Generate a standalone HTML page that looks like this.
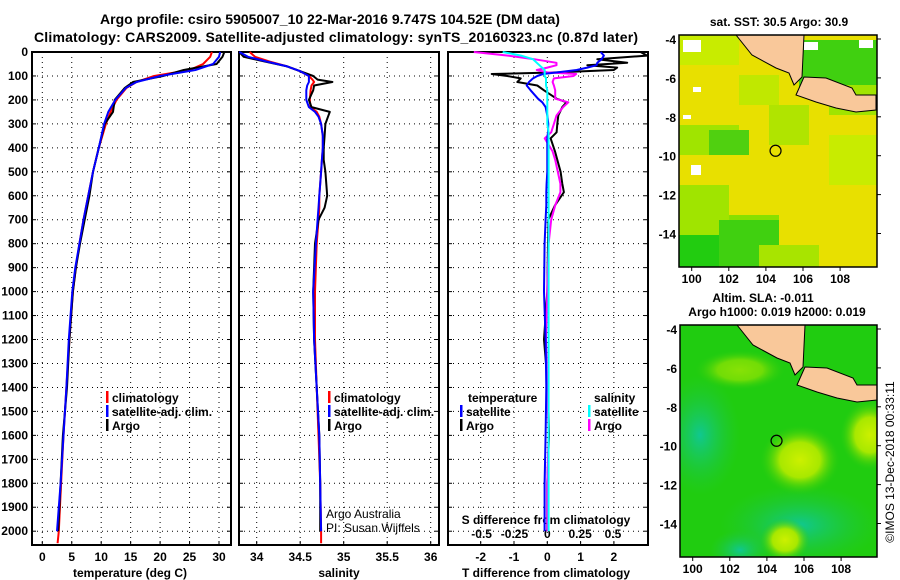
<!DOCTYPE html>
<html><head><meta charset="utf-8"><style>
body{margin:0;background:#fff}
svg{display:block;font-family:"Liberation Sans",sans-serif}
.b{font-weight:bold;font-size:12px}
.n{font-weight:normal;font-size:12px}
.t{font-weight:bold;font-size:14px}
</style></head><body>
<svg id="c" width="900" height="580" viewBox="0 0 900 580" xmlns="http://www.w3.org/2000/svg">
<defs>
<clipPath id="cp1"><rect x="32" y="37" width="199" height="508"/></clipPath>
<clipPath id="cp2"><rect x="239" y="37" width="200" height="508"/></clipPath>
<clipPath id="cp3"><rect x="448" y="37" width="200" height="508"/></clipPath>
<clipPath id="cm1"><rect x="679" y="35" width="198" height="232"/></clipPath>
<clipPath id="cm2"><rect x="680" y="325" width="197" height="232"/></clipPath>
<radialGradient id="gy"><stop offset="0" stop-color="#ccf000"/><stop offset="0.5" stop-color="#a8e800"/><stop offset="1" stop-color="#30cc10" stop-opacity="0"/></radialGradient>
<radialGradient id="gt"><stop offset="0" stop-color="#10c890"/><stop offset="1" stop-color="#20c840" stop-opacity="0"/></radialGradient>
<radialGradient id="gg"><stop offset="0" stop-color="#10c000"/><stop offset="1" stop-color="#10c000" stop-opacity="0"/></radialGradient>
</defs>
<text class="t" x="330" y="24" text-anchor="middle">Argo profile: csiro 5905007_10 22-Mar-2016 9.747S 104.52E (DM data)</text>
<text class="t" x="34" y="42" textLength="604">Climatology: CARS2009. Satellite-adjusted climatology: synTS_20160323.nc (0.87d later)</text>
<g id="g"></g>
</svg>
<script>
// ---- data ----
const depthTicks=[0,100,200,300,400,500,600,700,800,900,1000,1100,1200,1300,1400,1500,1600,1700,1800,1900,2000];
const tempTicks=[0,5,10,15,20,25,30];
const salTicks=[34,34.5,35,35.5,36];
const salTickLabels=["34","34.5","35","35.5","36"];
const tdTicks=[-2,-1,0,1,2];
const sdTicks=[-0.5,-0.25,0,0.25,0.5];
const sdTickLabels=["-0.5","-0.25","0","0.25","0.5"];

const tDepth=[0,20,50,75,100,125,150,200,250,300,400,500,600,700,800,900,1000,1200,1400,1600,1800,2000,2050];
const tClim=[28.8,28.5,27.3,25,19,16,14.3,12.6,11.6,10.8,9.6,8.6,7.8,7.0,6.3,5.7,5.2,4.6,4.1,3.6,3.2,2.8,2.6];
const tSat=[30.2,30,29,26,20,16,14.2,12.4,11.2,10.5,9.6,8.6,7.8,7.0,6.3,5.6,5.1,4.5,4.1,3.6,3.1,2.5];
const tArgo=[30.9,30.6,29.6,24,20.5,15.4,14,12.3,12,10.6,9.6,8.6,8,7.2,6.4,5.7,5.2,4.6,4.2,3.5,3.1,2.7];

const sDepth=[0,20,40,60,80,100,115,125,140,160,200,230,250,270,300,350,400,450,500,550,600,650,700,800,1000,1200,1400,1600,1800,2000,2050];
const sArgo=[33.8,33.85,34.1,34.35,34.5,34.65,34.7,34.87,34.66,34.65,34.6,34.63,34.84,34.82,34.79,34.78,34.77,34.77,34.79,34.8,34.81,34.78,34.71,34.67,34.65,34.66,34.69,34.72,34.73,34.73];
const sClim=[33.92,33.98,34.15,34.35,34.5,34.6,34.64,34.66,34.63,34.62,34.61,34.62,34.69,34.72,34.74,34.76,34.76,34.75,34.74,34.73,34.72,34.72,34.71,34.69,34.67,34.67,34.69,34.71,34.73,34.74,34.74];
const sSat=[33.8,33.9,34.12,34.35,34.5,34.6,34.6,34.6,34.58,34.57,34.57,34.6,34.67,34.71,34.74,34.76,34.76,34.75,34.74,34.73,34.72,34.71,34.70,34.68,34.65,34.66,34.69,34.72,34.73,34.74];

const dDepth=[0,15,30,45,55,65,75,85,92,100,110,125,140,160,195,210,230,265,300,335,360,415,450,500,550,585,640,700,800,1000,1200,1400,1600,1800,2000];
const tdArgo=[2.8,3.0,1.5,2.4,1.2,2.1,2.0,0.3,-1.67,-1.2,-0.8,-0.9,-0.3,-0.1,0.28,0.58,0.45,0.33,0.3,0.28,0.1,0.23,0.3,0.4,0.45,0.5,0.23,0.03,0.02,0.0,-0.1,0.02,0.05,0.0,0.0];
const tdSat=[1.6,1.7,1.63,1.5,1.48,1.2,0.88,0.3,-0.13,-0.3,-0.43,-0.55,-0.62,-0.5,-0.28,-0.15,-0.05,0.0,0.03,0.02,0.0,0.0,0.0,0.0,-0.02,-0.03,-0.03,-0.05,-0.08,-0.1,-0.05,-0.03,-0.05,-0.08,-0.08];
const sdArgo=[-0.56,-0.3,-0.1,0.07,0.07,0.0,-0.08,0.0,0.22,0.2,0.05,0.04,0.05,0.06,0.06,0.16,0.12,0.07,0.05,0.03,-0.02,0.04,0.06,0.08,0.1,0.1,0.06,0.03,0.01,0.0,-0.01,0.0,0.01,0.0,0.0];
const sdSat=[-0.34,-0.2,-0.11,-0.08,-0.06,-0.04,-0.02,-0.02,-0.02,-0.02,-0.01,-0.01,-0.01,0,0,0,0,0,0,0.01,0.01,0.01,0.01,0.01,0.01,0.01,0.01,0.01,0.01,0.01,0.01,0.01,0.01,0.01,0.01];

const lonTicks=[100,102,104,106,108];
const latTicks=[-4,-6,-8,-10,-12,-14];
const argoLon=104.52, argoLat=-9.747;

// ---- scales ----
const yD=d=>52+d*0.2396;
const xT=v=>42.3+v*5.89;
const xS=v=>256.7+(v-34)*87;
const xTD=v=>547.3+v*33.3;
const xSD=v=>547.3+v*131.3;

const NS='http://www.w3.org/2000/svg';
const G=document.getElementById('g');
function mk(tag,attrs,parent){const e=document.createElementNS(NS,tag);for(const k in attrs)e.setAttribute(k,attrs[k]);(parent||G).appendChild(e);return e;}
function txt(s,x,y,cls,anchor,parent){const e=mk('text',{x:x,y:y,'class':cls||'b','text-anchor':anchor||'middle'},parent);e.textContent=s;return e;}

function panel(x0,x1,name,vTicks,vScale){
  const g=mk('g',{});
  
  
  for(const d of depthTicks){const l=mk('line',{x1:x0,x2:x1,y1:yD(d),y2:yD(d),stroke:'#000','stroke-width':1,'stroke-dasharray':'1,4'},g);
    
    mk('line',{x1:x0,x2:x0+4,y1:yD(d),y2:yD(d),stroke:'#000'},g);mk('line',{x1:x1-4,x2:x1,y1:yD(d),y2:yD(d),stroke:'#000'},g);}
  for(const v of vTicks){const l=mk('line',{x1:vScale(v),x2:vScale(v),y1:52,y2:545,stroke:'#000','stroke-width':1,'stroke-dasharray':'1,4'},g);
    
    mk('line',{x1:vScale(v),x2:vScale(v),y1:541,y2:545,stroke:'#000'},g);}
  const r=mk('rect',{x:x0,y:52,width:x1-x0,height:493,fill:'none',stroke:'#000','stroke-width':2},g);
  
  return g;
}
function line(dep,vals,scale,color,clip,name,w){
  const n=Math.min(dep.length,vals.length);let pts=[];
  for(let i=0;i<n;i++)pts.push(scale(vals[i]).toFixed(1)+','+yD(dep[i]).toFixed(1));
  const p=mk('polyline',{points:pts.join(' '),fill:'none',stroke:color,'stroke-width':w||2,'stroke-linejoin':'round','clip-path':'url(#'+clip+')'});
  
  
}

panel(32,231,'temperature-panel',tempTicks,xT);
panel(239,439,'salinity-panel',salTicks,xS);
panel(448,648,'difference-panel',tdTicks,xTD);

for(const d of depthTicks){const t=txt(String(d),28,yD(d)+4,'b','end');}
tempTicks.forEach(v=>{const t=txt(String(v),xT(v),561);});
salTicks.forEach((v,i)=>{const t=txt(salTickLabels[i],xS(v),561);});
tdTicks.forEach(v=>{const t=txt(String(v),xTD(v),561);});
sdTicks.forEach((v,i)=>{const t=txt(sdTickLabels[i],xSD(v),538);});
let a;
a=txt('temperature (deg C)',130,577);
a=txt('salinity',339,577);
a=txt('T difference from climatology',546,577);
a=txt('S difference from climatology',546,524);

line(tDepth,tClim,xT,'#f00','cp1','temp-climatology-line');
line(tDepth,tArgo,xT,'#000','cp1','temp-argo-line');
line(tDepth,tSat,xT,'#00f','cp1','temp-satellite-line');
line(sDepth,sClim,xS,'#f00','cp2','sal-climatology-line');
line(sDepth,sArgo,xS,'#000','cp2','sal-argo-line');
line(sDepth,sSat,xS,'#00f','cp2','sal-satellite-line');
line(dDepth,tdArgo,xTD,'#000','cp3','tdiff-argo-line');
line(dDepth,sdArgo,xSD,'#f0f','cp3','sdiff-argo-line');
line(dDepth,tdSat,xTD,'#00f','cp3','tdiff-satellite-line');
line(dDepth,sdSat,xSD,'#0ff','cp3','sdiff-satellite-line');

function leg(x,y,color,label,name){
  const g=mk('g',{});
  mk('rect',{x:x,y:y-11,width:2.5,height:12,fill:color},g);
  txt(label,x+6,y,'b','start',g);
}
leg(106,402,'#f00','climatology','legend-temp-climatology');
leg(106,416,'#00f','satellite-adj. clim.','legend-temp-satellite');
leg(106,430,'#000','Argo','legend-temp-argo');
leg(328,402,'#f00','climatology','legend-sal-climatology');
leg(328,416,'#00f','satellite-adj. clim.','legend-sal-satellite');
leg(328,430,'#000','Argo','legend-sal-argo');
a=txt('temperature',468,402,'b','start');
leg(460,416,'#00f','satellite','legend-tdiff-satellite');
leg(460,430,'#000','Argo','legend-tdiff-argo');
a=txt('salinity',594,402,'b','start');
leg(588,416,'#0ff','satellite','legend-sdiff-satellite');
leg(588,430,'#f0f','Argo','legend-sdiff-argo');
a=txt('Argo Australia',326,518,'n','start');
a=txt('PI: Susan Wijffels',326,532,'n','start');

// ---- maps ----
const land1=[[57,0],[73,20],[97,33],[110,38],[115,50],[123,42],[125,0]];
const land2=[[125,42],[147,43],[173,53],[177,60],[197,60],[197,75],[177,77],[157,73],[137,67],[117,60]];
function map(ox,oy,w,h,name,clip,kind){
  const g=mk('g',{'clip-path':'url(#'+clip+')'});
  
  const lonX=l=>ox+12.7+(l-100)*18.55, latY=l=>oy+4+(-4-l)*19.45;
  if(kind==='sst'){
    mk('rect',{x:ox,y:oy,width:w,height:h,fill:'#e8e000'},g);
    const greens=[[0,200,70,40,'#22cc10'],[0,180,100,20,'#88e000'],[0,150,50,50,'#a0e400'],[40,185,60,50,'#40d010'],[0,90,60,30,'#a0e400'],[30,95,40,25,'#50d010'],[120,5,80,50,'#40d010'],[150,50,48,30,'#a0e400'],[90,70,40,40,'#b0e400'],[60,40,40,30,'#c0e800'],[80,210,60,22,'#a8e400'],[150,100,48,50,'#c8ec00'],[0,0,60,30,'#c8ec00']];
    greens.forEach(c=>mk('rect',{x:ox+c[0],y:oy+c[1],width:c[2],height:c[3],fill:c[4]},g));
    [[4,5,18,12],[14,52,8,5],[12,130,10,10],[125,7,14,8],[180,5,14,8],[4,80,8,4]].forEach(c=>mk('rect',{x:ox+c[0],y:oy+c[1],width:c[2],height:c[3],fill:'#fff'},g));
  } else {
    mk('rect',{x:ox,y:oy,width:w,height:h,fill:'#20cc10'},g);
    mk('ellipse',{cx:ox+20,cy:oy+110,rx:40,ry:60,fill:'url(#gt)'},g);
    mk('ellipse',{cx:ox+120,cy:oy+200,rx:80,ry:40,fill:'url(#gt)'},g);
    mk('ellipse',{cx:ox+60,cy:oy+225,rx:30,ry:20,fill:'url(#gt)'},g);
    mk('ellipse',{cx:ox+120,cy:oy+135,rx:40,ry:35,fill:'url(#gy)'},g);
    mk('ellipse',{cx:ox+190,cy:oy+110,rx:30,ry:35,fill:'url(#gy)'},g);
    mk('ellipse',{cx:ox+105,cy:oy+215,rx:25,ry:22,fill:'url(#gy)'},g);
    mk('ellipse',{cx:ox+60,cy:oy+45,rx:45,ry:20,fill:'url(#gy)','opacity':0.6},g);
  }
  [land1,land2].forEach(p=>mk('polygon',{points:p.map(q=>(ox+q[0])+','+(oy+q[1])).join(' '),fill:'#f9c89a',stroke:'#000','stroke-width':1},g));
  const ring=mk('circle',{cx:lonX(argoLon),cy:latY(argoLat),r:5.5,fill:'none',stroke:'#000','stroke-width':1.2},G);
  
  const fr=mk('rect',{x:ox,y:oy,width:w,height:h,fill:'none',stroke:'#000','stroke-width':1.5});
  
  lonTicks.forEach(l=>{mk('line',{x1:lonX(l),x2:lonX(l),y1:oy+h,y2:oy+h+4,stroke:'#000'});const t=txt(String(l),lonX(l),oy+h+16);});
  latTicks.forEach(l=>{mk('line',{x1:ox+w,x2:ox+w+4,y1:latY(l),y2:latY(l),stroke:'#000'});const t=txt(String(l),ox-3,latY(l)+5,'b','end');});
}
map(679,35,198,232,'sst-map','cm1','sst');
map(680,325,197,232,'sla-map','cm2','sla');
a=txt('sat. SST: 30.5 Argo: 30.9',779,26);
a=txt('Altim. SLA: -0.011',763,302);
a=txt('Argo h1000: 0.019 h2000: 0.019',777,316);
a=txt('©IMOS 13-Dec-2018 00:33:11',0,0,'n','middle');a.setAttribute('transform','translate(894,462) rotate(-90)');

</script>
</body></html>
